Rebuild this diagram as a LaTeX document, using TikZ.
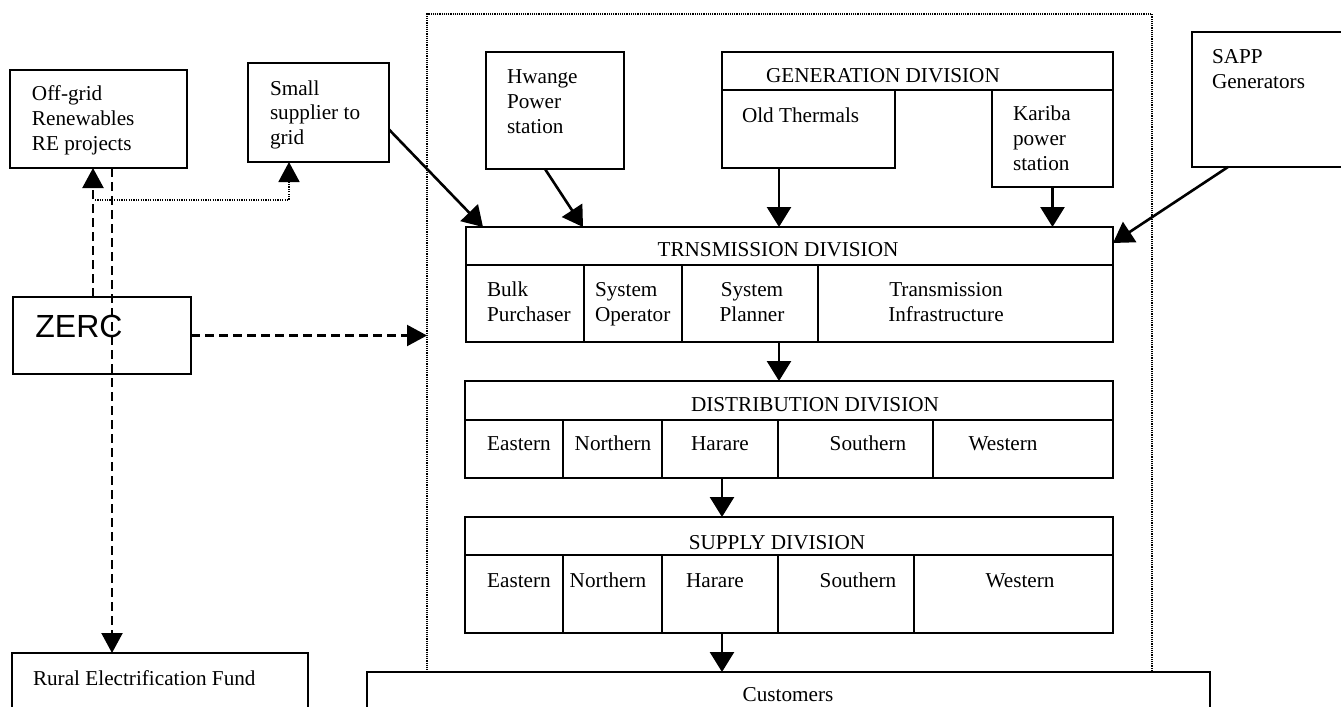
\documentclass[tikz,border=0pt]{standalone}
\usepackage{fontspec}
\setmainfont{Liberation Serif}
\newfontfamily\zercfont{Liberation Sans}
\usetikzlibrary{arrows.meta,calc}
\tikzset{
  bx/.style={draw=black,line width=1.3pt,inner sep=0pt,outer sep=0pt,rectangle},
  framebox/.style={draw=black,line width=1pt,dash pattern=on 0.6pt off 0.5pt,inner sep=0pt,outer sep=0pt,rectangle},
  txt/.style={inner sep=0pt,outer sep=0pt,font=\fontsize{10.6pt}{12.5pt}\selectfont},
  arr/.style={line width=1.3pt,-{Triangle[length=10pt,width=12pt]}},
  darr/.style={line width=1.1pt,dash pattern=on 4.5pt off 2.5pt,-{Triangle[length=10pt,width=10.5pt]}},
  dotarr/.style={line width=0.9pt,dash pattern=on 0.6pt off 0.6pt,-{Triangle[length=10pt,width=10.5pt]}}
}
\newcommand\rbox[6][bx]{\node[#1,minimum width={(#5-#3)*0.5pt},minimum height={(#6-#4)*0.5pt}] (#2) at ({(#3+#5)/2},{(#4+#6)/2}) {};}
\newcommand\lt[4]{\node[txt,anchor=base west] (#1) at (#2,#3) {#4};}
\newcommand\ct[4]{\node[txt,anchor=base] (#1) at (#2,#3) {#4};}
\begin{document}
\begin{tikzpicture}[x=0.5pt,y=-0.5pt]
\useasboundingbox (0,0) rectangle (1341,707);
% frame
\rbox[framebox]{frame}{427}{14}{1152}{672}
% left boxes
\rbox{offgrid}{10}{70}{187}{168}
\rbox{small}{248}{63}{389}{162}
\rbox{zerc}{13}{297}{191}{374}
\rbox{rural}{12}{653}{308}{770}
% generators
\rbox{hwange}{486}{52}{624}{169}
\rbox{genh}{722}{52}{1113}{90}
\rbox{oldth}{722}{90}{895}{168}
\rbox{kariba}{992}{90}{1113}{187}
\rbox{sapp}{1192}{32}{1400}{167}
% transmission
\rbox{trh}{466}{227}{1113}{265}
\rbox{tr1}{466}{265}{584}{342}
\rbox{tr2}{584}{265}{682}{342}
\rbox{tr3}{682}{265}{818}{342}
\rbox{tr4}{818}{265}{1113}{342}
% distribution
\rbox{dh}{465}{381}{1113}{420}
\rbox{d1}{465}{420}{563}{478}
\rbox{d2}{563}{420}{662}{478}
\rbox{d3}{662}{420}{778}{478}
\rbox{d4}{778}{420}{933}{478}
\rbox{d5}{933}{420}{1113}{478}
% supply
\rbox{sh}{465}{517}{1113}{555}
\rbox{s1}{465}{555}{563}{633}
\rbox{s2}{563}{555}{662}{633}
\rbox{s3}{662}{555}{778}{633}
\rbox{s4}{778}{555}{914}{633}
\rbox{s5}{914}{555}{1113}{633}
% customers
\rbox{cust}{367}{672}{1210}{770}
% texts
\lt{t1}{32}{100}{Off-grid}
\lt{t2}{32}{125}{Renewables}
\lt{t3}{32}{150}{RE projects}
\lt{t4}{270}{95}{Small}
\lt{t5}{270}{119}{supplier to}
\lt{t6}{270}{144}{grid}
\node[inner sep=0pt,anchor=base west,font=\zercfont\fontsize{16pt}{18pt}\selectfont] (tz) at (35,337) {ZERC};
\lt{t7}{33}{685}{Rural Electrification Fund}
\lt{t8}{507}{83}{Hwange}
\lt{t9}{507}{108}{Power}
\lt{t10}{507}{133}{station}
\ct{t11}{883}{82}{GENERATION DIVISION}
\lt{t12}{742}{122}{Old Thermals}
\lt{t13}{1013}{120}{Kariba}
\lt{t14}{1013}{145}{power}
\lt{t15}{1013}{170}{station}
\lt{t16}{1212}{63}{SAPP}
\lt{t17}{1212}{88}{Generators}
\ct{t18}{778}{256}{TRNSMISSION DIVISION}
\lt{t19}{487}{296}{Bulk}
\lt{t20}{487}{321}{Purchaser}
\lt{t21}{595}{296}{System}
\lt{t22}{595}{321}{Operator}
\ct{t23}{752}{296}{System}
\ct{t24}{752}{321}{Planner}
\ct{t25}{946}{296}{Transmission}
\ct{t26}{946}{321}{Infrastructure}
\ct{t27}{815}{411}{DISTRIBUTION DIVISION}
\ct{t28}{519}{450}{Eastern}
\ct{t29}{613}{450}{Northern}
\ct{t30}{720}{450}{Harare}
\ct{t31}{868}{450}{Southern}
\ct{t32}{1003}{450}{Western}
\ct{t33}{777}{549}{SUPPLY DIVISION}
\ct{t34}{519}{587}{Eastern}
\ct{t35}{608}{587}{Northern}
\ct{t36}{715}{587}{Harare}
\ct{t37}{858}{587}{Southern}
\ct{t38}{1020}{587}{Western}
\ct{t39}{788}{701}{Customers}
% helper coordinates
\coordinate (a1) at (779,0);
\coordinate (a2) at (722,0);
\coordinate (a3) at (93,0);
\coordinate (a4) at (112,0);
\coordinate (a5) at (289,0);
\coordinate (d0) at (95,200);
% connectors
\draw[arr] ($(small.east)+(0,17)$) -- ($(trh.north west)+(17,0)$);
\draw[arr] ($(hwange.south)+(-10,0)$) -- ($(trh.north west)+(117,0)$);
\draw[arr] (oldth.south -| a1) -- (trh.north -| a1);
\draw[arr] (kariba.south) -- (trh.north -| kariba.south);
\draw[arr] ($(sapp.south west)+(36,0)$) -- ($(trh.east)+(0,-3)$);
\draw[arr] (tr3.south -| a1) -- (dh.north -| a1);
\draw[arr] (d3.south -| a2) -- (sh.north -| a2);
\draw[arr] (s3.south -| a2) -- (cust.north -| a2);
\draw[darr] (zerc.east) -- (frame.west |- zerc.east);
\draw[darr] (zerc.north -| a3) -- (offgrid.south -| a3);
\draw[darr] (offgrid.south -| a4) -- (rural.north -| a4);
\draw[dotarr] (d0) -| (small.south -| a5);
\end{tikzpicture}
\end{document}
